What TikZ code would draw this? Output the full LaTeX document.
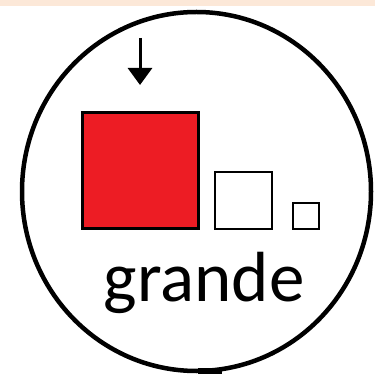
\documentclass[tikz,border=0pt]{standalone}
\usepackage{fontspec}
\setmainfont{Carlito}
\usetikzlibrary{arrows.meta}
\definecolor{peach}{HTML}{FCE8D8}
\definecolor{bigred}{HTML}{ED1C24}
\begin{document}
\begin{tikzpicture}[x=1pt,y=1pt,
  sq/.style={draw=black,inner sep=0pt,outer sep=0pt,line width=2pt}]
\useasboundingbox (0,0) rectangle (375,377);
\fill[peach] (0,371) rectangle (375,377);
\draw[line width=4.5pt] (196.5,185.5) ellipse [x radius=174.5, y radius=179.5];
\fill (198,3) rectangle (222,9);
\node[sq,fill=bigred,line width=3pt,minimum width=116pt,minimum height=116pt] (big) at (140.5,206) {};
\node[sq,fill=white,minimum width=57pt,minimum height=57pt] (mid) at (243.5,176.5) {};
\node[sq,fill=white,minimum width=26pt,minimum height=26pt] (small) at (306,161) {};
\coordinate (atop) at (140,339);
\coordinate (atip) at (140,292);
\draw[line width=3pt,-{Triangle[width=24pt,length=17pt]}] (atop) -- (atip);
\node[font=\fontsize{71}{80}\selectfont,inner sep=0pt,anchor=base] (lbl) at (204,75) {grande};
\end{tikzpicture}
\end{document}
